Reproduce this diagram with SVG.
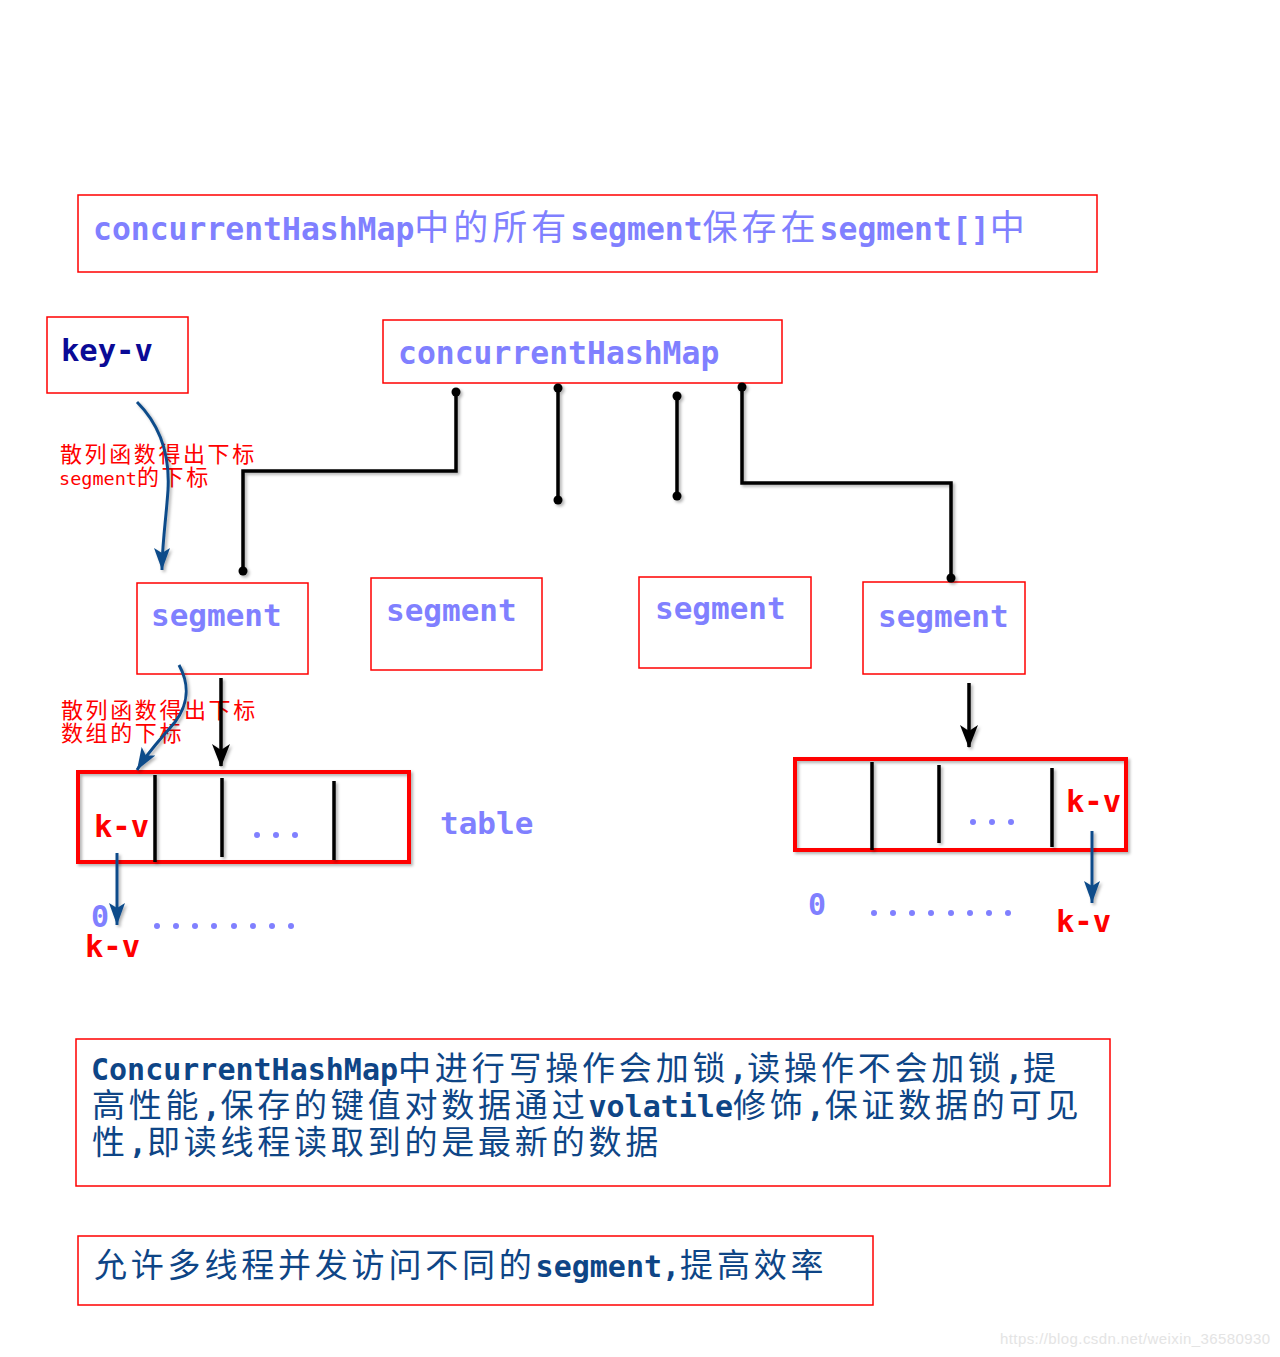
<svg xmlns="http://www.w3.org/2000/svg" width="1280" height="1357" viewBox="0 0 1280 1357">
<style>
.box{fill:#fff;stroke:#ff0000;stroke-width:1.5}
.tbl{fill:none;stroke:#ff0000;stroke-width:4}
.mono{font-family:"DejaVu Sans Mono","Liberation Mono",monospace;font-weight:bold}
.cjk{font-family:"Noto Sans CJK SC","Noto Sans CJK JP",sans-serif;font-weight:normal}
.tc{font-size:35px;letter-spacing:4px}
.bc{font-size:33px;letter-spacing:3.8px}
.lc{font-size:22px;letter-spacing:2.6px}
.lav{fill:#8080ff}
.navy{fill:#0e4586}
.red{fill:#ff0000}
.conn{fill:none;stroke:#000;stroke-width:3.5}
.blue{fill:none;stroke:#0f4c8a;stroke-width:3}
.div{stroke:#000;stroke-width:3.5}
</style>
<defs>
<filter id="sh" x="-20%" y="-20%" width="140%" height="140%">
<feDropShadow dx="2" dy="2" stdDeviation="1.5" flood-color="#000" flood-opacity="0.3"/>
</filter>
<marker id="ab" markerUnits="userSpaceOnUse" markerWidth="24" markerHeight="20" refX="22" refY="9" orient="auto">
<path d="M0,0 L23,9 L0,18 L6,9 z" fill="#000"/>
</marker>
<marker id="au" markerUnits="userSpaceOnUse" markerWidth="24" markerHeight="20" refX="22" refY="8" orient="auto">
<path d="M0,0 L22,8 L0,16 L5,8 z" fill="#0f4c8a"/>
</marker>
<marker id="dot" markerUnits="userSpaceOnUse" markerWidth="12" markerHeight="12" refX="6" refY="6" orient="auto">
<circle cx="6" cy="6" r="4.5" fill="#000"/>
</marker>
</defs>
<rect width="1280" height="1357" fill="#fff"/>

<g id="title">
<rect class="box" x="78" y="195" width="1019" height="77"/>
<text x="93" y="240" class="mono lav" font-size="31.4">concurrentHashMap<tspan class="cjk tc">中的所有</tspan>segment<tspan class="cjk tc">保存在</tspan>segment[]<tspan class="cjk tc">中</tspan></text>
</g>

<g id="keyv">
<rect class="box" x="47" y="317" width="141" height="76"/>
<text x="61" y="361" class="mono" font-size="30.5" fill="#0a0a96">key-v</text>
</g>

<g id="chm">
<rect class="box" x="383" y="320" width="399" height="63"/>
<text x="398" y="364" class="mono lav" font-size="31.4">concurrentHashMap</text>
</g>

<g id="seg1">
<rect class="box" x="137" y="583" width="171" height="91"/>
<text x="151" y="626" class="mono lav" font-size="31">segment</text>
</g>
<g id="seg2">
<rect class="box" x="371" y="578" width="171" height="92"/>
<text x="386" y="621" class="mono lav" font-size="31">segment</text>
</g>
<g id="seg3">
<rect class="box" x="639" y="577" width="172" height="91"/>
<text x="655" y="619" class="mono lav" font-size="31">segment</text>
</g>
<g id="seg4">
<rect class="box" x="863" y="582" width="162" height="92"/>
<text x="878" y="627" class="mono lav" font-size="31">segment</text>
</g>

<g id="table1">
<rect class="tbl" x="78" y="772" width="331" height="90" filter="url(#sh)"/>
<g filter="url(#sh)">
<line class="div" x1="155" y1="775" x2="155" y2="862"/>
<line class="div" x1="222" y1="778" x2="222" y2="857"/>
<line class="div" x1="334" y1="781" x2="334" y2="860"/>
</g>
<text x="94" y="837" class="mono red" font-size="30.5">k-v</text>
<g class="lav"><circle cx="257" cy="835" r="3"/><circle cx="276" cy="835" r="3"/><circle cx="295" cy="835" r="3"/></g>
<text x="440" y="834" class="mono lav" font-size="31">table</text>
</g>

<g id="table2">
<rect class="tbl" x="795" y="759" width="331" height="91" filter="url(#sh)"/>
<g filter="url(#sh)">
<line class="div" x1="872" y1="762" x2="872" y2="850"/>
<line class="div" x1="939" y1="765" x2="939" y2="843"/>
<line class="div" x1="1052" y1="768" x2="1052" y2="847"/>
</g>
<text x="1066" y="812" class="mono red" font-size="30.5">k-v</text>
<g class="lav"><circle cx="973" cy="822" r="3"/><circle cx="992" cy="822" r="3"/><circle cx="1011" cy="822" r="3"/></g>
</g>

<g id="chain1">
<text x="91" y="927" class="mono lav" font-size="30">0</text>
<g class="lav">
<circle cx="157" cy="926" r="3"/><circle cx="176" cy="926" r="3"/><circle cx="195" cy="926" r="3"/><circle cx="214" cy="926" r="3"/><circle cx="234" cy="926" r="3"/><circle cx="253" cy="926" r="3"/><circle cx="272" cy="926" r="3"/><circle cx="291" cy="926" r="3"/>
</g>
<text x="85" y="957" class="mono red" font-size="30.5">k-v</text>
</g>

<g id="chain2">
<text x="808" y="915" class="mono lav" font-size="30">0</text>
<g class="lav">
<circle cx="874" cy="913" r="3"/><circle cx="893" cy="913" r="3"/><circle cx="912" cy="913" r="3"/><circle cx="931" cy="913" r="3"/><circle cx="951" cy="913" r="3"/><circle cx="970" cy="913" r="3"/><circle cx="989" cy="913" r="3"/><circle cx="1008" cy="913" r="3"/>
</g>
<text x="1056" y="932" class="mono red" font-size="30.5">k-v</text>
</g>

<g id="label1" class="red">
<text x="60" y="462" class="cjk lc">散列函数得出下标</text>
<text x="59" y="485" font-size="18.5" font-family="DejaVu Sans Mono,monospace">segment<tspan class="cjk lc" letter-spacing="4">的下标</tspan></text>
</g>
<g id="label2" class="red">
<text x="61" y="718" class="cjk lc">散列函数得出下标</text>
<text x="61" y="741" class="cjk lc">数组的下标</text>
</g>

<g id="connectors">
<g filter="url(#sh)">
<polyline class="conn" points="456,392 456,471 243,471 243,571" marker-start="url(#dot)" marker-end="url(#dot)"/>
<line class="conn" x1="558" y1="388" x2="558" y2="500" marker-start="url(#dot)" marker-end="url(#dot)"/>
<line class="conn" x1="677" y1="396" x2="677" y2="496" marker-start="url(#dot)" marker-end="url(#dot)"/>
<polyline class="conn" points="742,387 742,483 951,483 951,578" marker-start="url(#dot)" marker-end="url(#dot)"/>
<line class="conn" x1="221" y1="678" x2="221" y2="766" marker-end="url(#ab)"/>
<line class="conn" x1="969" y1="683" x2="969" y2="747" marker-end="url(#ab)"/>
<path class="blue" d="M137,402 C160,425 170,455 168,490 C166,520 162,545 162,570" marker-end="url(#au)"/>
<path class="blue" d="M179,665 C190,685 188,705 175,722 C160,740 148,752 137,770" marker-end="url(#au)"/>
<line class="blue" x1="117" y1="853" x2="117" y2="925" marker-end="url(#au)"/>
<line class="blue" x1="1092" y1="831" x2="1092" y2="903" marker-end="url(#au)"/>
</g>
</g>

<g id="note1">
<rect class="box" x="76" y="1039" width="1034" height="147"/>
<g class="mono navy" font-size="30">
<text x="91" y="1080">ConcurrentHashMap<tspan class="cjk bc">中进行写操作会加锁</tspan>,<tspan class="cjk bc">读操作不会加锁</tspan>,<tspan class="cjk bc">提</tspan></text>
<text x="92" y="1117"><tspan class="cjk bc">高性能</tspan>,<tspan class="cjk bc">保存的键值对数据通过</tspan>volatile<tspan class="cjk bc">修饰</tspan>,<tspan class="cjk bc">保证数据的可见</tspan></text>
<text x="92" y="1154"><tspan class="cjk bc">性</tspan>,<tspan class="cjk bc">即读线程读取到的是最新的数据</tspan></text>
</g>
</g>

<g id="note2">
<rect class="box" x="78" y="1236" width="795" height="69"/>
<text x="94" y="1277" class="mono navy" font-size="30"><tspan class="cjk bc">允许多线程并发访问不同的</tspan>segment,<tspan class="cjk bc">提高效率</tspan></text>
</g>

<text x="1000" y="1344" font-family="Liberation Sans,Arial,sans-serif" font-size="15" textLength="270" fill="#e4e4e4">https://blog.csdn.net/weixin_36580930</text>
</svg>
